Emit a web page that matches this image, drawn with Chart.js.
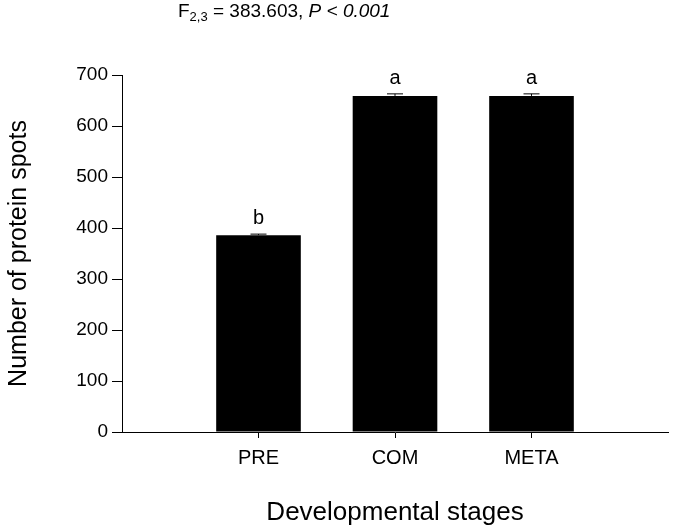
<!DOCTYPE html>
<html><head><meta charset="utf-8">
<script src="https://cdn.jsdelivr.net/npm/chart.js@4/dist/chart.umd.min.js"></script>
<style>html,body{margin:0;padding:0;background:#fff}#w{width:685px;height:528px}</style>
</head><body><div id="w"><canvas id="c"></canvas></div>
<script>
const categories = ['', 'PRE', 'COM', 'META', ''];
const values = [null, 386, 659, 659, null];
const errors = [null, 2, 4, 4, null];
const letters = ['', 'b', 'a', 'a', ''];
const yTicks = [0, 100, 200, 300, 400, 500, 600, 700];
const FONT = '"Liberation Sans", Arial, sans-serif';

const extras = {
  id: 'extras',
  afterDatasetsDraw(chart) {
    const ctx = chart.ctx, x = chart.scales.x, y = chart.scales.y;
    ctx.save();
    ctx.strokeStyle = '#000'; ctx.lineWidth = 1;
    ctx.fillStyle = '#000';
    ctx.font = '20px ' + FONT; ctx.textAlign = 'center'; ctx.textBaseline = 'alphabetic';
    values.forEach((v, i) => {
      if (v == null) return;
      const px = x.getPixelForValue(i);
      const top = y.getPixelForValue(v + errors[i]);
      const base = y.getPixelForValue(v);
      ctx.beginPath();
      ctx.moveTo(px, base); ctx.lineTo(px, top);
      ctx.moveTo(px - 8, top); ctx.lineTo(px + 8, top);
      ctx.stroke();
      ctx.fillText(letters[i], px, top - 10);
    });
    // title
    ctx.textAlign = 'left';
    let tx = 178, ty = 17;
    ctx.font = '19px ' + FONT; ctx.fillText('F', tx, ty); tx += ctx.measureText('F').width;
    ctx.font = '13px ' + FONT; ctx.fillText('2,3', tx, ty + 4); tx += ctx.measureText('2,3').width;
    ctx.font = '19px ' + FONT; const s = ' = 383.603, '; ctx.fillText(s, tx, ty); tx += ctx.measureText(s).width;
    ctx.font = 'italic 19px ' + FONT; ctx.fillText('P < 0.001', tx, ty);
    ctx.restore();
  }
};

new Chart(document.getElementById('c'), {
  type: 'bar',
  data: { labels: categories, datasets: [{ data: values, backgroundColor: '#000', borderWidth: 0,
    barPercentage: 0.62, categoryPercentage: 1.0 }] },
  options: {
    responsive: true, maintainAspectRatio: false, animation: false,
    layout: { padding: { left: 0, right: 17, top: 75, bottom: 0 } },
    plugins: { legend: { display: false }, tooltip: { enabled: false } },
    scales: {
      x: {
        offset: false,
        grid: { offset: false, drawOnChartArea: false, drawTicks: true, tickLength: 6,
          tickColor: c => (c.index === 0 || c.index === 4) ? 'rgba(0,0,0,0)' : '#000' },
        border: { color: '#000', width: 1 },
        ticks: { color: '#000', font: { family: FONT, size: 20 }, padding: 8, maxRotation: 0, autoSkip: false },
        title: { display: true, text: 'Developmental stages', color: '#000', font: { family: FONT, size: 26 }, padding: { top: 26, bottom: 0 } },
        afterFit: s => { s.height = 96; }
      },
      y: {
        min: 0, max: 700,
        afterBuildTicks: s => { s.ticks = yTicks.map(v => ({ value: v })); },
        grid: { drawOnChartArea: false, drawTicks: true, tickLength: 10, tickColor: '#000' },
        border: { color: '#000', width: 1 },
        ticks: { color: '#000', font: { family: FONT, size: 19 }, padding: 4 },
        title: { display: true, text: 'Number of protein spots', color: '#000', font: { family: FONT, size: 25 }, padding: { bottom: 6 } },
        afterFit: s => { s.width = 122; }
      }
    }
  },
  plugins: [extras]
});
</script></body></html>
